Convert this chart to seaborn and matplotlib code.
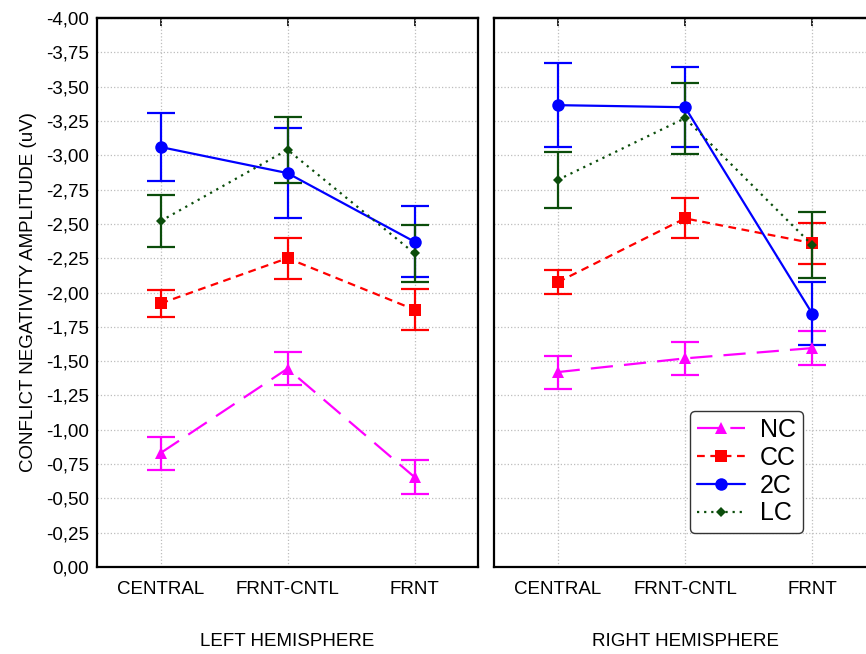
import numpy as np
import pandas as pd
import matplotlib
matplotlib.use("Agg")
import matplotlib.pyplot as plt
from matplotlib.ticker import FuncFormatter
import seaborn as sns

# data (values in uV, error = half length of bar)
sites = ["CENTRAL", "FRNT-CNTL", "FRNT"]
conditions = ["NC", "CC", "2C", "LC"]

left_nc = [-0.83, -1.445, -0.655]
left_cc = [-1.92, -2.25, -1.875]
left_2c = [-3.06, -2.87, -2.37]
left_lc = [-2.52, -3.04, -2.285]
left_nc_err = [0.12, 0.12, 0.125]
left_cc_err = [0.10, 0.15, 0.15]
left_2c_err = [0.25, 0.33, 0.26]
left_lc_err = [0.19, 0.24, 0.21]

right_nc = [-1.42, -1.52, -1.595]
right_cc = [-2.075, -2.54, -2.36]
right_2c = [-3.365, -3.35, -1.845]
right_lc = [-2.82, -3.27, -2.345]
right_nc_err = [0.12, 0.12, 0.125]
right_cc_err = [0.087, 0.145, 0.15]
right_2c_err = [0.305, 0.29, 0.23]
right_lc_err = [0.205, 0.26, 0.24]

hemispheres = ["LEFT HEMISPHERE", "RIGHT HEMISPHERE"]

panels = {
    "LEFT HEMISPHERE": ([left_nc, left_cc, left_2c, left_lc],
                        [left_nc_err, left_cc_err, left_2c_err, left_lc_err]),
    "RIGHT HEMISPHERE": ([right_nc, right_cc, right_2c, right_lc],
                         [right_nc_err, right_cc_err, right_2c_err, right_lc_err]),
}

colors = {"NC": "#ff00ff", "CC": "#ff0000", "2C": "#0000ff", "LC": "#0b4d0b"}
markers = {"NC": "^", "CC": "s", "2C": "o", "LC": "D"}
msizes = {"NC": 8, "CC": 8, "2C": 9, "LC": 5.5}
dashes = {"NC": (10, 5), "CC": (3.5, 2.5), "2C": "", "LC": (1, 2.2)}

sns.set_style("white")
plt.rcParams["font.family"] = ["Liberation Sans", "DejaVu Sans"]
plt.rcParams["text.color"] = "black"
plt.rcParams["axes.labelcolor"] = "black"
plt.rcParams["xtick.color"] = "black"
plt.rcParams["ytick.color"] = "black"

fig = plt.figure(figsize=(8.66, 6.54), dpi=100)
ax_l = fig.add_axes([97 / 866, 87 / 654, 381 / 866, 549 / 654])
ax_r = fig.add_axes([494 / 866, 87 / 654, 382 / 866, 549 / 654], sharey=ax_l)

for ax, hemi in zip([ax_l, ax_r], hemispheres):
    vals, errs = panels[hemi]
    rows = []
    for cond, v in zip(conditions, vals):
        for s, y in zip(sites, v):
            rows.append({"site": s, "amp": y, "cond": cond})
    df = pd.DataFrame(rows)

    sns.lineplot(data=df, x="site", y="amp", hue="cond", style="cond",
                 hue_order=conditions, style_order=conditions,
                 palette=colors, markers=markers, dashes=dashes,
                 linewidth=1.6, markeredgewidth=0, ax=ax, legend=False,
                 zorder=3)
    for cond, v, e in zip(conditions, vals, errs):
        ax.errorbar(np.arange(len(sites)), v, yerr=e, fmt="none",
                    ecolor=colors[cond], elinewidth=1.6, capsize=10,
                    capthick=1.6, zorder=2)
    # marker sizes per condition
    for line, cond in zip(ax.lines, conditions):
        line.set_markersize(msizes[cond])

    ax.set_xlim(-0.5, 2.5)
    ax.set_ylim(0, -4)
    ax.set_yticks(np.arange(0, -4.01, -0.25))
    ax.yaxis.set_major_formatter(FuncFormatter(lambda v, p: f"{v:.2f}".replace(".", ",")))
    ax.set_xticks(range(len(sites)))
    ax.set_xticklabels(sites, fontsize=13.5)
    ax.set_xlabel(hemi, fontsize=13.5, labelpad=25)
    ax.grid(True, color="#bdbdbd", linestyle=":", linewidth=0.9)
    for sp in ax.spines.values():
        sp.set_linewidth(1.6)
        sp.set_color("black")
    ax.tick_params(axis="y", direction="in", length=6, width=1.2, labelsize=13.5, pad=6)
    ax.tick_params(axis="x", direction="out", length=6, width=1.2, pad=4)
    top = ax.secondary_xaxis("top")
    top.set_xticks(range(len(sites)))
    top.tick_params(direction="in", length=6, width=1.2, labeltop=False)
    top.spines["top"].set_linewidth(1.6)

ax_l.set_ylabel("CONFLICT NEGATIVITY AMPLITUDE (uV)", fontsize=13.5, labelpad=6)
ax_r.set_ylabel("")
ax_r.tick_params(axis="y", labelleft=False)

handles = []
for cond in conditions:
    h, = ax_r.plot([], [], color=colors[cond], marker=markers[cond],
                   markersize=msizes[cond], markeredgewidth=0, linewidth=1.6,
                   linestyle="-" if not dashes[cond] else "--")
    if dashes[cond]:
        h.set_dashes(dashes[cond])
    handles.append(h)
leg = ax_r.legend(handles, conditions, loc="lower left", bbox_to_anchor=(0.513, 0.062),
                  borderaxespad=0, fontsize=18, handlelength=1.9, handletextpad=0.6,
                  labelspacing=0.15, borderpad=0.3, frameon=True, fancybox=True,
                  edgecolor="#333333", framealpha=1)
leg.get_frame().set_linewidth(1.0)

fig.savefig("out.png", dpi=100)
